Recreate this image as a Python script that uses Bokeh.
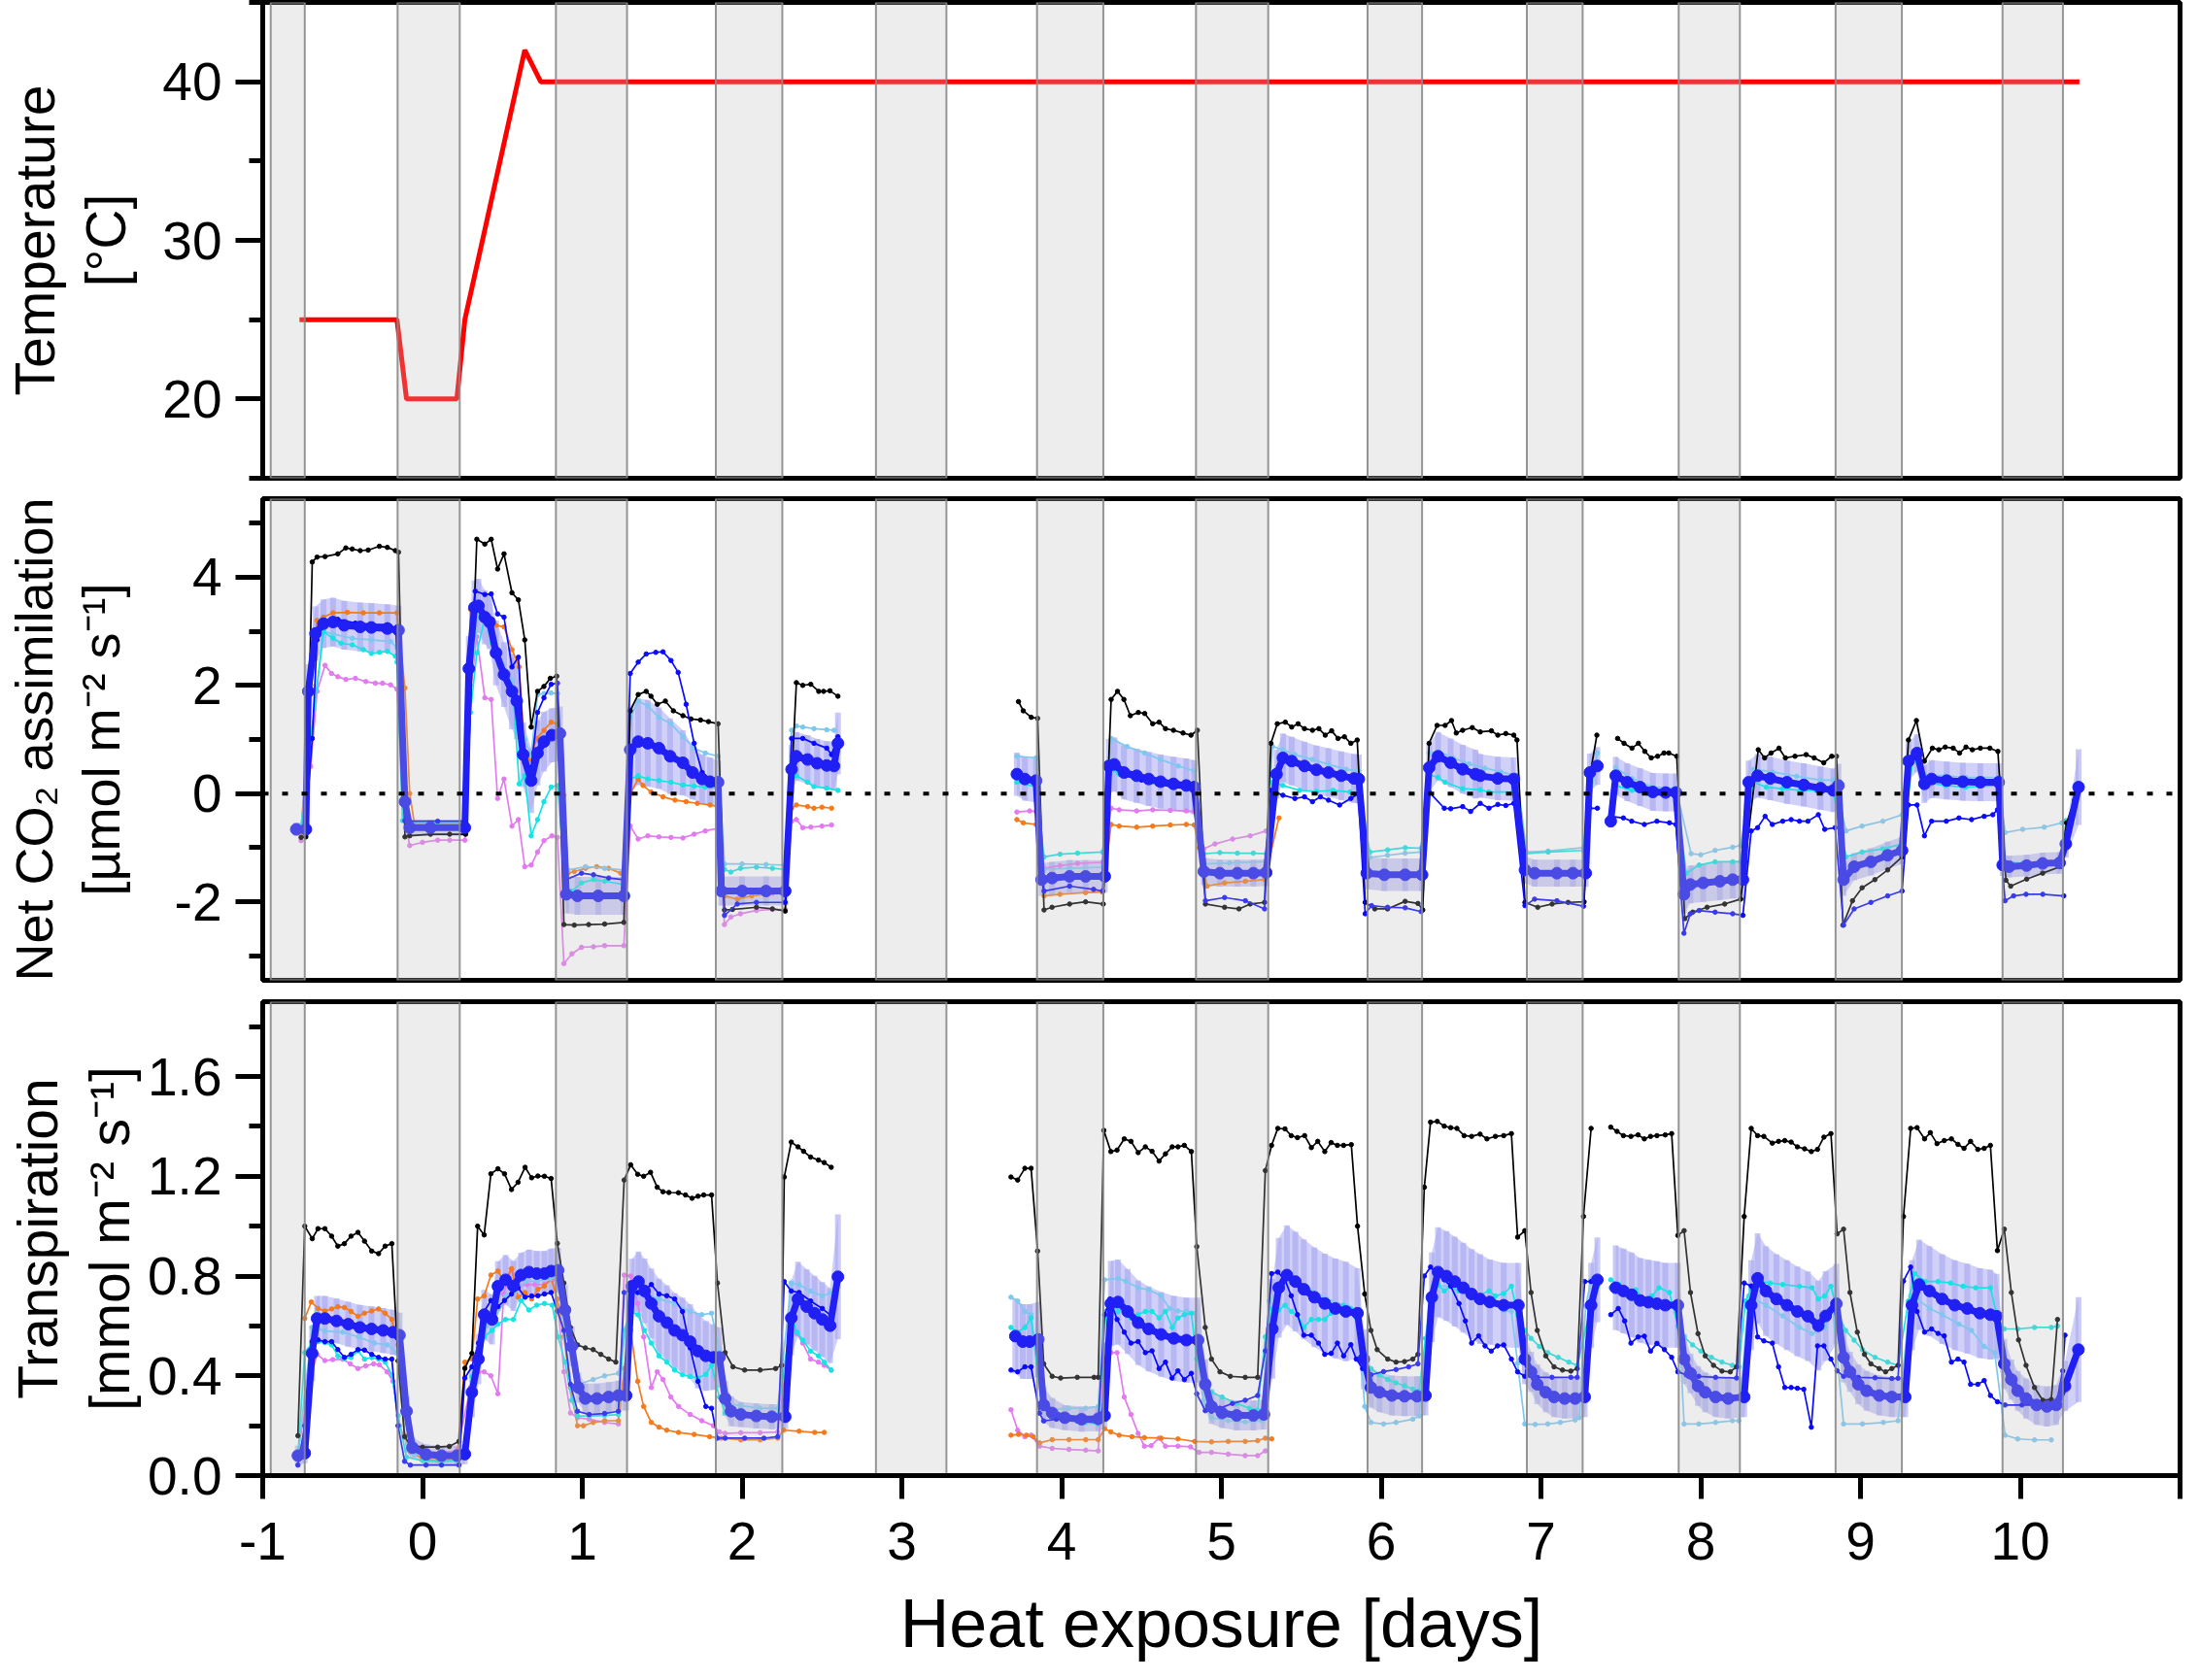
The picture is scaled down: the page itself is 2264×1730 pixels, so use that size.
import math
from bokeh.plotting import figure
from bokeh.layouts import column
from bokeh.models import Range1d, FixedTicker, Span, PrintfTickFormatter
from bokeh.embed import file_html
from bokeh.resources import INLINE

GAP = None

# ---------------- axes / categories ----------------
DAY_TICKS = [-1, 0, 1, 2, 3, 4, 5, 6, 7, 8, 9, 10, 11]
TEMP_TICKS = [20, 30, 40]
TEMP_MINOR = [15, 25, 35, 45]
CO2_TICKS = [-2, 0, 2, 4]
CO2_MINOR = [-3, -1, 1, 3, 5]
TR_TICKS = [0.0, 0.4, 0.8, 1.2, 1.6]
TR_MINOR = [0.2, 0.6, 1.0, 1.4, 1.8]

# dark periods (days)
NIGHT_START = [-0.95, -0.156, 0.835, 1.836, 2.838, 3.846, 4.841, 5.915, 6.912, 7.862, 8.844, 9.889]
NIGHT_END = [-0.737, 0.233, 1.28, 2.252, 3.279, 4.261, 5.293, 6.256, 7.261, 8.245, 9.259, 10.267]

# ---------------- temperature ----------------
TEMP_X = [-0.77, -0.16, -0.10, 0.215, 0.265, 0.64, 0.74, 10.37]
TEMP_Y = [25, 25, 20, 20, 25, 42, 40, 40]

# ---------------- net CO2 assimilation ----------------
CO2_BLACK = [(-0.76,-0.81),(-0.73,-0.80),(-0.69,4.28),(-0.66,4.37),(-0.61,4.38),(-0.53,4.43),(-0.48,4.54),(-0.44,4.52),(-0.39,4.49),(-0.34,4.50),(-0.27,4.57),(-0.22,4.55),(-0.17,4.49),(-0.15,4.46),(-0.11,-0.80),(-0.08,-0.78),(0.05,-0.75),(0.17,-0.75),(0.27,-0.75),(0.34,4.70),(0.39,4.61),(0.43,4.70),(0.47,4.15),(0.51,4.43),(0.56,3.71),(0.60,3.58),(0.64,2.84),(0.68,1.23),(0.72,1.89),(0.76,1.98),(0.80,2.13),(0.84,2.17),(0.885,-2.42),(0.95,-2.43),(1.04,-2.42),(1.14,-2.41),(1.26,-2.38),(1.30,1.53),(1.35,1.83),(1.40,1.89),(1.43,1.80),(1.47,1.65),(1.52,1.71),(1.57,1.53),(1.63,1.44),(1.68,1.38),(1.74,1.36),(1.79,1.33),(1.85,1.29),(1.89,-2.15),(1.94,-2.14),(2.09,-2.10),(2.19,-2.13),(2.27,-2.17),(2.34,2.05),(2.38,2.00),(2.43,2.02),(2.48,1.89),(2.51,1.89),(2.55,1.90),(2.60,1.80),
GAP,
(3.73,1.70),(3.76,1.53),(3.81,1.41),(3.85,1.39),(3.89,-2.15),(3.94,-2.10),(4.05,-2.04),(4.15,-2.00),(4.26,-2.04),(4.31,1.74),(4.35,1.89),(4.39,1.74),(4.43,1.44),(4.48,1.50),(4.52,1.48),(4.57,1.29),(4.61,1.32),(4.65,1.20),(4.70,1.17),(4.76,1.12),(4.81,1.08),(4.85,1.17),(4.90,-2.04),(5.02,-2.10),(5.11,-2.13),(5.18,-2.04),(5.27,-2.01),(5.31,0.93),(5.35,1.29),(5.40,1.32),(5.44,1.23),(5.48,1.29),(5.52,1.20),(5.57,1.17),(5.61,1.20),(5.65,1.08),(5.69,1.16),(5.73,1.02),(5.77,1.05),(5.81,0.93),(5.85,0.99),(5.90,-2.01),(5.96,-2.13),(6.04,-2.13),(6.15,-1.99),(6.23,-2.03),(6.26,-2.15),(6.30,0.93),(6.35,1.26),(6.40,1.26),(6.44,1.35),(6.47,1.12),(6.51,1.17),(6.57,1.22),(6.62,1.14),(6.69,1.16),(6.73,1.08),(6.78,1.11),(6.83,1.08),(6.85,0.99),(6.90,-2.01),(6.98,-2.10),(7.07,-2.04),(7.17,-2.01),(7.27,-2.00),(7.31,0.39),(7.35,1.08),
GAP,
(7.48,1.02),(7.52,0.93),(7.57,0.84),(7.61,0.93),(7.65,0.78),(7.69,0.66),(7.73,0.69),(7.77,0.75),(7.80,0.75),(7.85,0.69),(7.90,-2.31),(7.95,-2.19),(8.04,-2.10),(8.15,-2.04),(8.25,-1.95),(8.36,0.81),(8.40,0.66),(8.44,0.75),(8.49,0.84),(8.53,0.66),(8.59,0.69),(8.66,0.72),(8.71,0.66),(8.77,0.57),(8.82,0.69),(8.85,0.69),(8.89,-2.43),(8.95,-1.98),(9.01,-1.74),(9.09,-1.59),(9.17,-1.41),(9.26,-1.17),(9.30,0.99),(9.35,1.35),(9.40,0.60),(9.45,0.84),(9.49,0.81),(9.53,0.86),(9.58,0.84),(9.62,0.75),(9.66,0.86),(9.70,0.81),(9.75,0.84),(9.81,0.84),(9.86,0.78),(9.91,-1.60),(9.94,-1.71),(10.04,-1.58),(10.14,-1.47),(10.25,-1.35),(10.29,-0.54),(10.34,-0.12)]

# mean: (day, value, sd)
CO2_MEAN = [(-0.79,-0.66,0.12),(-0.73,-0.66,0.12),(-0.715,1.89,0.5),(-0.67,2.96,0.5),(-0.62,3.14,0.45),(-0.56,3.17,0.45),(-0.49,3.11,0.45),(-0.39,3.08,0.45),(-0.32,3.07,0.45),(-0.22,3.05,0.45),(-0.15,3.02,0.45),(-0.11,-0.15,0.3),(-0.08,-0.63,0.15),(0.05,-0.63,0.15),(0.265,-0.63,0.15),(0.29,2.31,0.6),(0.325,3.44,0.5),(0.35,3.47,0.5),(0.39,3.26,0.5),(0.42,3.17,0.5),(0.46,2.60,0.6),(0.51,2.20,0.6),(0.56,1.89,0.7),(0.59,1.71,0.7),(0.63,0.72,0.6),(0.68,0.24,0.6),(0.72,0.75,0.6),(0.76,0.96,0.55),(0.81,1.08,0.5),(0.86,1.11,0.5),(0.90,-1.86,0.35),(0.97,-1.89,0.35),(1.10,-1.89,0.35),(1.26,-1.89,0.35),(1.30,0.81,0.8),(1.35,0.96,0.8),(1.41,0.93,0.8),(1.48,0.84,0.75),(1.55,0.69,0.7),(1.63,0.57,0.6),(1.69,0.39,0.5),(1.75,0.27,0.45),(1.80,0.22,0.45),(1.85,0.21,0.4),(1.87,-1.80,0.27),(2.0,-1.80,0.27),(2.15,-1.80,0.27),(2.27,-1.80,0.27),(2.31,0.45,0.45),(2.34,0.69,0.45),(2.41,0.63,0.45),(2.47,0.56,0.45),(2.53,0.52,0.45),(2.575,0.51,0.45),(2.60,0.93,0.57),
GAP,
(3.72,0.36,0.4),(3.77,0.27,0.4),(3.84,0.24,0.4),(3.875,-1.59,0.3),(3.94,-1.56,0.3),(4.05,-1.53,0.3),(4.15,-1.53,0.3),(4.27,-1.53,0.3),(4.295,0.51,0.5),(4.33,0.54,0.5),(4.39,0.39,0.5),(4.47,0.33,0.5),(4.545,0.27,0.5),(4.62,0.22,0.5),(4.70,0.18,0.5),(4.78,0.15,0.5),(4.83,0.12,0.5),(4.89,-1.44,0.25),(4.99,-1.47,0.25),(5.10,-1.47,0.25),(5.20,-1.47,0.25),(5.28,-1.46,0.25),(5.345,0.36,0.45),(5.385,0.66,0.45),(5.44,0.60,0.45),(5.52,0.51,0.45),(5.595,0.44,0.45),(5.67,0.39,0.45),(5.75,0.33,0.45),(5.83,0.28,0.45),(5.86,0.27,0.45),(5.91,-1.47,0.3),(6.02,-1.50,0.3),(6.15,-1.50,0.3),(6.256,-1.50,0.3),(6.30,0.48,0.45),(6.356,0.69,0.45),(6.435,0.57,0.45),(6.51,0.45,0.45),(6.59,0.36,0.45),(6.62,0.33,0.4),(6.73,0.28,0.4),(6.83,0.27,0.4),(6.90,-1.41,0.25),(6.96,-1.47,0.25),(7.10,-1.47,0.25),(7.20,-1.47,0.25),(7.28,-1.47,0.25),(7.306,0.39,0.35),(7.353,0.51,0.35),
GAP,
(7.437,-0.51,0.12),(7.468,0.33,0.35),(7.54,0.21,0.35),(7.62,0.12,0.35),(7.70,0.03,0.35),(7.78,0.02,0.35),(7.845,0.02,0.35),(7.895,-1.86,0.35),(7.935,-1.68,0.35),(8.015,-1.65,0.35),(8.12,-1.62,0.35),(8.20,-1.59,0.35),(8.264,-1.59,0.35),(8.30,0.21,0.4),(8.356,0.33,0.4),(8.435,0.28,0.4),(8.54,0.21,0.4),(8.645,0.16,0.4),(8.75,0.10,0.4),(8.83,0.06,0.4),(8.862,0.15,0.4),(8.894,-1.59,0.3),(8.96,-1.35,0.25),(9.065,-1.26,0.25),(9.17,-1.14,0.25),(9.26,-1.05,0.25),(9.30,0.60,0.35),(9.354,0.75,0.35),(9.40,0.18,0.35),(9.445,0.27,0.35),(9.54,0.24,0.35),(9.64,0.22,0.35),(9.75,0.21,0.35),(9.865,0.21,0.35),(9.89,-1.32,0.2),(9.93,-1.35,0.2),(10.04,-1.33,0.2),(10.14,-1.29,0.2),(10.246,-1.28,0.2),(10.285,-0.93,0.25),(10.365,0.12,0.7)]

CO2_ORANGE = [(-0.76,-0.72),(-0.70,2.0),(-0.66,3.20),(-0.62,3.26),(-0.56,3.34),(-0.47,3.35),(-0.37,3.34),(-0.27,3.34),(-0.16,3.34),(-0.11,1.95),(-0.08,0.0),(-0.05,-0.57),(0.05,-0.57),(0.265,-0.57),(0.30,3.41),(0.35,3.44),(0.40,3.32),(0.46,3.11),(0.51,3.08),(0.56,2.66),(0.605,2.34),(0.64,0.75),(0.67,0.63),(0.715,1.02),(0.76,1.17),(0.805,1.32),(0.845,1.29),(0.885,-0.03),(0.91,-1.47),(0.95,-1.44),(1.02,-1.38),(1.09,-1.35),(1.165,-1.38),(1.24,-1.47),(1.26,-1.50),(1.30,0.0),(1.35,0.27),(1.38,0.15),(1.43,0.03),(1.505,-0.06),(1.58,-0.12),(1.65,-0.15),(1.72,-0.18),(1.80,-0.21),(1.85,-0.24),(1.89,-1.89),(1.97,-1.95),(2.06,-1.89),(2.19,-1.84),(2.27,-1.83),(2.31,-0.27),(2.34,-0.21),(2.41,-0.24),(2.45,-0.27),(2.50,-0.25),(2.56,-0.27),
GAP,
(3.72,-0.48),(3.76,-0.54),(3.84,-0.57),(3.89,-1.89),(3.99,-1.86),(4.15,-1.83),(4.256,-1.82),(4.31,-0.57),(4.36,-0.60),(4.47,-0.62),(4.57,-0.60),(4.68,-0.58),(4.78,-0.57),(4.83,-0.58),(4.86,-1.0),(4.91,-1.71),(5.02,-1.65),(5.15,-1.62),(5.27,-1.59),(5.36,-0.45)]

CO2_VIOLET = [(-0.76,-0.87),(-0.70,0.5),(-0.66,1.89),(-0.61,2.37),(-0.57,2.22),(-0.53,2.16),(-0.48,2.11),(-0.42,2.13),(-0.355,2.07),(-0.295,2.04),(-0.25,2.04),(-0.20,2.01),(-0.16,1.93),(-0.11,-0.5),(-0.08,-0.96),(0.0,-0.90),(0.095,-0.86),(0.17,-0.86),(0.265,-0.86),(0.30,1.89),(0.34,2.90),(0.39,1.77),(0.43,1.74),(0.47,-0.09),(0.51,0.27),(0.56,-0.60),(0.60,-0.48),(0.64,-1.35),(0.68,-1.32),(0.72,-1.08),(0.76,-0.87),(0.81,-0.78),(0.845,-0.81),(0.885,-3.14),(0.935,-2.96),(0.995,-2.84),(1.07,-2.83),(1.14,-2.81),(1.26,-2.81),(1.30,-0.60),(1.35,-0.84),(1.41,-0.78),(1.48,-0.80),(1.555,-0.81),(1.63,-0.82),(1.70,-0.75),(1.77,-0.69),(1.85,-0.64),(1.89,-2.42),(1.93,-2.28),(1.99,-2.22),(2.09,-2.16),(2.19,-2.14),(2.27,-2.14),(2.31,-0.51),(2.34,-0.48),(2.38,-0.63),(2.43,-0.62),(2.50,-0.60),(2.56,-0.58),
GAP,
(3.72,-0.34),(3.80,-0.32),(3.84,-0.33),(3.89,-1.38),(3.99,-1.33),(4.10,-1.29),(4.256,-1.27),(4.31,-0.27),(4.36,-0.30),(4.47,-0.32),(4.57,-0.30),(4.68,-0.31),(4.78,-0.32),(4.83,-0.33),(4.89,-1.02),(4.96,-0.93),(5.07,-0.84),(5.18,-0.78),(5.28,-0.69)]

CO2_CYAN = [(-0.76,-0.60),(-0.70,1.0),(-0.62,2.99),(-0.56,2.87),(-0.51,2.78),(-0.44,2.75),(-0.37,2.66),(-0.32,2.59),(-0.27,2.61),(-0.22,2.63),(-0.17,2.54),(-0.16,2.43),(-0.125,-0.5),(-0.08,-0.54),(0.095,-0.54),(0.265,-0.54),(0.30,1.5),(0.34,2.6),(0.39,3.26),(0.435,2.78),(0.48,2.37),(0.53,2.07),(0.57,1.74),(0.605,0.18),(0.64,0.33),(0.68,-0.78),(0.72,-0.48),(0.76,-0.15),(0.805,0.12),(0.845,0.15),(0.90,-1.83),(0.935,-1.80),(0.995,-1.65),(1.07,-1.59),(1.14,-1.62),(1.26,-1.68),(1.30,0.27),(1.35,0.33),(1.41,0.27),(1.48,0.24),(1.555,0.21),(1.63,0.16),(1.70,0.14),(1.77,0.12),(1.85,0.10),(1.89,-1.40),(1.93,-1.45),(1.99,-1.38),(2.09,-1.36),(2.19,-1.38),(2.27,-1.40),(2.31,0.24),(2.34,0.33),(2.41,0.21),(2.45,0.13),(2.53,0.10),(2.60,0.06),
GAP,
(3.72,0.21),(3.84,0.12),(3.89,-1.17),(3.99,-1.12),(4.10,-1.10),(4.256,-1.08),(4.31,0.45),(4.36,0.36),(4.47,0.27),(4.57,0.21),(4.68,0.15),(4.78,0.09),(4.83,0.06),(4.89,-1.11),(4.99,-1.09),(5.10,-1.10),(5.20,-1.10),(5.28,-1.11),(5.32,0.21),(5.385,0.15),(5.49,0.06),(5.595,0.04),(5.70,0.06),(5.805,0.03),(5.857,0.0),(5.93,-1.08),(6.04,-1.04),(6.15,-1.00),(6.25,-1.01),(6.30,0.35),(6.356,0.30),(6.40,0.21),(6.51,0.09),(6.62,0.07),(6.675,0.03),(6.83,0.03),(6.90,-1.11),(7.045,-1.08),(7.266,-1.05),(7.306,0.39),(7.353,0.51),
GAP,
(7.468,0.15),(7.57,0.06),(7.67,0.0),(7.78,-0.03),(7.845,0.0),(7.91,-1.47),(7.99,-1.32),(8.09,-1.26),(8.20,-1.26),(8.25,-1.26),(8.33,0.21),(8.41,0.12),(8.51,0.09),(8.62,0.06),(8.72,0.06),(8.83,0.03),(8.91,-1.17),(9.01,-1.08),(9.14,-1.02),(9.26,-0.93),(9.33,0.69),(9.40,0.21),(9.53,0.15),(9.66,0.12),(9.865,0.15),(9.905,-1.26),(10.015,-1.29),(10.15,-1.29),(10.26,-1.24),(10.285,-0.50)]

CO2_SKY = [(-0.76,-0.62),(-0.62,3.0),(-0.56,2.95),(-0.44,2.87),(-0.32,2.84),(-0.20,2.81),(-0.16,2.70),(-0.11,-0.4),(-0.08,-0.58),(0.265,-0.58),(0.30,2.0),(0.35,3.3),(0.42,3.0),(0.50,2.4),(0.56,2.1),(0.60,1.6),(0.64,1.0),(0.68,0.7),(0.72,1.83),(0.76,1.85),(0.805,1.86),(0.845,1.85),(0.91,-1.41),(1.02,-1.35),(1.14,-1.38),(1.26,-1.41),(1.30,1.4),(1.35,1.71),(1.41,1.62),(1.48,1.41),(1.555,1.29),(1.63,1.05),(1.70,0.84),(1.77,0.75),(1.85,0.69),(1.89,-1.30),(2.0,-1.30),(2.15,-1.31),(2.27,-1.32),(2.31,1.17),(2.34,1.25),(2.38,1.23),(2.45,1.20),(2.53,1.18),(2.575,1.17),
GAP,
(3.72,0.69),(3.84,0.66),(3.89,-1.40),(4.05,-1.38),(4.256,-1.36),(4.31,1.02),(4.41,0.87),(4.52,0.75),(4.62,0.63),(4.73,0.51),(4.83,0.42),(4.89,-1.30),(5.05,-1.28),(5.28,-1.26),(5.32,0.87),(5.385,0.81),(5.46,0.72),(5.57,0.63),(5.67,0.54),(5.78,0.45),(5.857,0.42),(5.93,-1.18),(6.04,-1.14),(6.15,-1.10),(6.25,-1.08),(6.30,0.75),(6.36,0.78),(6.45,0.66),(6.55,0.55),(6.65,0.47),(6.75,0.40),(6.85,0.33),(6.91,-1.08),(7.045,-1.06),(7.266,-1.00),(7.353,0.75),
GAP,
(7.468,0.48),(7.57,0.28),(7.70,0.12),(7.845,0.10),(7.94,-1.11),(8.0,-1.13),(8.09,-1.05),(8.20,-0.99),(8.25,-0.96),(8.33,0.45),(8.45,0.40),(8.60,0.32),(8.75,0.25),(8.83,0.25),(8.91,-0.69),(9.01,-0.60),(9.14,-0.51),(9.26,-0.39),(9.33,0.75),(9.40,0.35),(9.53,0.33),(9.66,0.30),(9.865,0.30),(9.905,-0.72),(10.015,-0.66),(10.15,-0.62),(10.26,-0.54)]

CO2_BLUE = [(-0.76,-0.66),(-0.73,-0.55),(-0.69,1.02),(-0.66,2.84),(-0.62,3.20),(-0.53,3.22),(-0.42,3.15),(-0.32,3.13),(-0.22,3.12),(-0.16,3.05),(-0.11,-0.5),(-0.08,-0.51),(0.095,-0.51),(0.265,-0.51),(0.29,2.37),(0.33,3.74),(0.39,3.68),(0.43,3.69),(0.47,3.32),(0.51,3.26),(0.56,2.34),(0.60,2.52),(0.64,0.57),(0.68,0.48),(0.72,1.50),(0.76,1.77),(0.805,2.02),(0.845,2.04),(0.90,-1.59),(0.995,-1.47),(1.07,-1.50),(1.165,-1.56),(1.26,-1.59),(1.30,2.22),(1.35,2.43),(1.40,2.58),(1.46,2.61),(1.505,2.62),(1.555,2.46),(1.60,2.24),(1.65,1.65),(1.70,0.93),(1.75,0.39),(1.80,0.27),(1.85,0.18),(1.89,-2.25),(1.97,-2.04),(2.09,-2.01),(2.27,-2.01),(2.31,1.02),(2.38,1.02),(2.45,0.93),(2.53,0.84),(2.56,0.72),(2.60,1.05),
GAP,
(3.72,0.30),(3.84,0.22),(3.89,-1.80),(4.05,-1.71),(4.20,-1.77),(4.256,-1.80),(4.31,0.50),(4.40,0.33),(4.50,0.25),(4.60,0.18),(4.70,0.12),(4.83,0.08),(4.90,-1.98),(5.02,-1.92),(5.15,-1.98),(5.27,-2.13),(5.31,0.06),(5.385,-0.03),(5.46,-0.09),(5.52,-0.06),(5.57,-0.15),(5.62,-0.06),(5.67,-0.12),(5.74,-0.21),(5.81,-0.09),(5.857,0.0),(5.90,-2.22),(5.94,-2.07),(6.04,-2.10),(6.15,-2.11),(6.25,-2.18),(6.30,0.03),(6.395,-0.27),(6.435,-0.28),(6.51,-0.24),(6.56,-0.33),(6.62,-0.18),(6.675,-0.27),(6.73,-0.20),(6.78,-0.22),(6.83,-0.18),(6.90,-2.07),(6.96,-1.95),(7.10,-1.98),(7.266,-2.08),(7.306,-0.27),(7.353,-0.27),
GAP,
(7.437,-0.42),(7.516,-0.45),(7.568,-0.51),(7.647,-0.57),(7.726,-0.51),(7.804,-0.54),(7.845,-0.57),(7.895,-2.58),(7.935,-2.22),(7.99,-2.16),(8.09,-2.19),(8.20,-2.22),(8.264,-2.25),(8.316,-0.69),(8.356,-0.63),(8.403,-0.42),(8.448,-0.57),(8.513,-0.51),(8.566,-0.48),(8.618,-0.51),(8.671,-0.51),(8.736,-0.39),(8.776,-0.66),(8.841,-0.63),(8.894,-2.43),(8.96,-2.13),(9.065,-2.01),(9.17,-1.89),(9.26,-1.80),(9.30,-0.21),(9.354,-0.21),(9.40,-0.78),(9.445,-0.51),(9.537,-0.51),(9.616,-0.45),(9.695,-0.48),(9.774,-0.42),(9.828,-0.39),(9.857,-0.30),(9.905,-1.98),(9.958,-1.89),(10.036,-1.86),(10.141,-1.86),(10.272,-1.89)]

# ---------------- transpiration ----------------
TR_BLACK = [(-0.78,0.16),(-0.737,1.00),(-0.69,0.95),(-0.654,0.99),(-0.611,0.99),(-0.569,0.96),(-0.53,0.92),(-0.489,0.93),(-0.447,0.96),(-0.404,0.975),(-0.363,0.94),(-0.318,0.90),(-0.275,0.89),(-0.234,0.92),(-0.192,0.93),(-0.153,0.46),(-0.112,0.156),(-0.076,0.124),(0.0,0.114),(0.095,0.114),(0.168,0.117),(0.228,0.137),(0.265,0.43),(0.309,0.49),(0.345,1.00),(0.386,0.965),(0.428,1.21),(0.472,1.23),(0.513,1.21),(0.557,1.147),(0.598,1.176),(0.642,1.236),(0.683,1.194),(0.722,1.201),(0.763,1.20),(0.805,1.191),(0.844,0.931),(0.885,0.772),(0.926,0.594),(0.97,0.524),(1.019,0.512),(1.068,0.505),(1.116,0.486),(1.165,0.467),(1.21,0.455),(1.262,1.185),(1.303,1.246),(1.347,1.208),(1.384,1.20),(1.427,1.216),(1.469,1.156),(1.505,1.138),(1.542,1.135),(1.602,1.134),(1.646,1.125),(1.687,1.112),(1.724,1.12),(1.76,1.125),(1.809,1.125),(1.846,0.772),(1.894,0.493),(1.943,0.436),(2.016,0.423),(2.113,0.423),(2.21,0.429),(2.247,0.442),(2.264,1.197),(2.308,1.337),(2.35,1.318),(2.385,1.30),(2.429,1.277),(2.478,1.265),(2.514,1.255),(2.558,1.236),
GAP,
(3.683,1.197),(3.725,1.185),(3.77,1.232),(3.809,1.232),(3.85,0.90),(3.888,0.448),(3.941,0.398),(3.994,0.391),(4.098,0.394),(4.203,0.394),(4.229,0.394),(4.264,1.384),(4.308,1.299),(4.347,1.305),(4.392,1.35),(4.434,1.34),(4.479,1.295),(4.524,1.318),(4.566,1.30),(4.61,1.261),(4.65,1.29),(4.692,1.318),(4.728,1.318),(4.768,1.324),(4.812,1.299),(4.846,0.918),(4.899,0.594),(4.938,0.467),(4.991,0.416),(5.056,0.398),(5.149,0.394),(5.227,0.394),(5.275,1.223),(5.314,1.324),(5.353,1.392),(5.398,1.39),(5.437,1.363),(5.476,1.355),(5.521,1.363),(5.563,1.315),(5.603,1.34),(5.647,1.299),(5.687,1.335),(5.726,1.324),(5.765,1.324),(5.813,1.327),(5.852,1.0),(5.897,0.728),(5.936,0.582),(5.975,0.505),(6.041,0.467),(6.093,0.455),(6.146,0.457),(6.198,0.467),(6.23,0.486),(6.27,1.156),(6.309,1.417),(6.351,1.42),(6.395,1.401),(6.435,1.395),(6.474,1.392),(6.519,1.363),(6.566,1.36),(6.619,1.369),(6.662,1.35),(6.715,1.36),(6.767,1.363),(6.815,1.371),(6.854,0.956),(6.899,0.982),(6.938,0.734),(6.977,0.582),(7.03,0.48),(7.082,0.436),(7.135,0.423),(7.187,0.419),(7.227,0.429),(7.266,1.039),(7.314,1.392),
GAP,
(7.437,1.397),(7.476,1.38),(7.516,1.363),(7.563,1.36),(7.608,1.366),(7.647,1.35),(7.686,1.36),(7.726,1.363),(7.778,1.366),(7.818,1.371),(7.857,0.963),(7.896,0.982),(7.936,0.734),(7.983,0.569),(8.028,0.48),(8.08,0.442),(8.133,0.419),(8.185,0.416),(8.224,0.436),(8.272,1.039),(8.316,1.392),(8.356,1.363),(8.395,1.36),(8.448,1.333),(8.487,1.34),(8.526,1.343),(8.566,1.337),(8.605,1.318),(8.65,1.31),(8.692,1.299),(8.731,1.308),(8.771,1.357),(8.815,1.371),(8.854,0.969),(8.894,0.988),(8.934,0.734),(8.98,0.575),(9.025,0.486),(9.065,0.448),(9.117,0.429),(9.157,0.416),(9.196,0.429),(9.235,0.442),(9.269,1.039),(9.314,1.392),(9.354,1.395),(9.401,1.35),(9.437,1.375),(9.479,1.331),(9.524,1.343),(9.569,1.35),(9.61,1.328),(9.648,1.312),(9.689,1.34),(9.734,1.308),(9.774,1.312),(9.813,1.324),(9.857,0.902),(9.9,0.988),(9.944,0.734),(9.989,0.544),(10.036,0.442),(10.089,0.353),(10.141,0.302),(10.194,0.305),(10.233,0.626)]

TR_MEAN = [(-0.78,0.08,0.04),(-0.737,0.09,0.04),(-0.691,0.49,0.11),(-0.66,0.63,0.09),(-0.611,0.63,0.09),(-0.538,0.62,0.09),(-0.465,0.607,0.09),(-0.392,0.594,0.09),(-0.319,0.588,0.09),(-0.246,0.582,0.09),(-0.185,0.575,0.09),(-0.144,0.563,0.09),(-0.10,0.258,0.06),(-0.063,0.112,0.04),(0.022,0.085,0.04),(0.119,0.08,0.04),(0.216,0.08,0.04),(0.265,0.086,0.04),(0.309,0.334,0.1),(0.35,0.467,0.1),(0.386,0.645,0.1),(0.435,0.626,0.1),(0.472,0.759,0.1),(0.52,0.785,0.1),(0.569,0.76,0.1),(0.617,0.804,0.09),(0.666,0.816,0.09),(0.715,0.81,0.09),(0.763,0.81,0.09),(0.805,0.82,0.09),(0.849,0.823,0.09),(0.892,0.664,0.1),(0.934,0.518,0.08),(0.975,0.353,0.06),(1.019,0.309,0.06),(1.092,0.309,0.06),(1.165,0.315,0.06),(1.226,0.321,0.06),(1.274,0.321,0.06),(1.31,0.759,0.11),(1.352,0.778,0.12),(1.39,0.74,0.13),(1.432,0.69,0.14),(1.48,0.639,0.15),(1.53,0.613,0.15),(1.578,0.582,0.15),(1.627,0.563,0.15),(1.675,0.537,0.15),(1.724,0.499,0.15),(1.773,0.48,0.14),(1.821,0.474,0.13),(1.858,0.474,0.12),(1.894,0.309,0.07),(1.931,0.258,0.06),(1.992,0.245,0.05),(2.089,0.239,0.05),(2.186,0.236,0.05),(2.27,0.236,0.05),(2.308,0.632,0.15),(2.35,0.708,0.15),(2.405,0.677,0.15),(2.454,0.651,0.15),(2.502,0.626,0.15),(2.551,0.601,0.15),(2.60,0.797,0.25),
GAP,
(3.71,0.559,0.15),(3.757,0.537,0.15),(3.80,0.537,0.15),(3.854,0.546,0.15),(3.888,0.283,0.07),(3.941,0.251,0.06),(4.02,0.232,0.05),(4.125,0.226,0.05),(4.229,0.228,0.05),(4.269,0.24,0.05),(4.308,0.69,0.17),(4.353,0.696,0.17),(4.413,0.658,0.17),(4.479,0.613,0.17),(4.545,0.588,0.17),(4.623,0.566,0.17),(4.702,0.55,0.17),(4.781,0.543,0.17),(4.854,0.543,0.17),(4.899,0.366,0.1),(4.938,0.277,0.07),(5.004,0.251,0.06),(5.096,0.241,0.06),(5.2,0.241,0.06),(5.266,0.245,0.06),(5.319,0.588,0.2),(5.359,0.753,0.2),(5.41,0.804,0.2),(5.463,0.778,0.2),(5.516,0.747,0.2),(5.582,0.715,0.2),(5.647,0.69,0.2),(5.713,0.67,0.2),(5.779,0.658,0.2),(5.852,0.651,0.18),(5.891,0.467,0.12),(5.936,0.353,0.08),(5.99,0.334,0.08),(6.067,0.321,0.08),(6.146,0.318,0.08),(6.225,0.318,0.08),(6.277,0.321,0.08),(6.317,0.715,0.18),(6.356,0.816,0.18),(6.409,0.80,0.18),(6.461,0.778,0.18),(6.514,0.753,0.18),(6.566,0.728,0.18),(6.619,0.708,0.18),(6.68,0.696,0.17),(6.767,0.683,0.17),(6.859,0.683,0.17),(6.899,0.467,0.1),(6.938,0.416,0.08),(6.977,0.366,0.08),(7.03,0.334,0.08),(7.082,0.315,0.08),(7.148,0.309,0.08),(7.214,0.309,0.08),(7.274,0.315,0.08),(7.314,0.683,0.17),(7.353,0.785,0.17),
GAP,
(7.468,0.753,0.17),(7.516,0.74,0.17),(7.568,0.725,0.17),(7.621,0.702,0.17),(7.673,0.695,0.17),(7.726,0.689,0.17),(7.778,0.683,0.17),(7.857,0.683,0.17),(7.896,0.467,0.1),(7.936,0.41,0.08),(7.983,0.359,0.08),(8.028,0.334,0.08),(8.093,0.315,0.08),(8.172,0.309,0.08),(8.272,0.315,0.08),(8.316,0.683,0.18),(8.356,0.791,0.18),(8.408,0.74,0.18),(8.474,0.708,0.18),(8.54,0.683,0.18),(8.605,0.658,0.18),(8.671,0.639,0.18),(8.736,0.601,0.18),(8.782,0.64,0.18),(8.849,0.689,0.16),(8.894,0.474,0.1),(8.934,0.416,0.08),(8.986,0.366,0.08),(9.038,0.34,0.08),(9.117,0.321,0.08),(9.196,0.315,0.08),(9.28,0.315,0.08),(9.322,0.683,0.18),(9.367,0.766,0.18),(9.432,0.74,0.18),(9.511,0.708,0.18),(9.59,0.683,0.18),(9.668,0.67,0.18),(9.747,0.651,0.18),(9.813,0.645,0.18),(9.852,0.639,0.17),(9.9,0.448,0.1),(9.944,0.385,0.08),(9.984,0.34,0.08),(10.036,0.309,0.08),(10.102,0.283,0.08),(10.167,0.277,0.08),(10.225,0.283,0.08),(10.28,0.359,0.1),(10.364,0.505,0.21)]

TR_ORANGE = [(-0.737,0.63),(-0.696,0.696),(-0.654,0.67),(-0.611,0.66),(-0.569,0.668),(-0.53,0.677),(-0.489,0.674),(-0.447,0.658),(-0.404,0.639),(-0.363,0.651),(-0.318,0.66),(-0.275,0.668),(-0.234,0.651),(-0.192,0.626),(-0.153,0.524),(-0.112,0.162),(-0.076,0.099),(0.0,0.067),(0.095,0.061),(0.216,0.067),(0.265,0.455),(0.309,0.468),(0.345,0.708),(0.386,0.72),(0.428,0.804),(0.472,0.82),(0.513,0.778),(0.557,0.829),(0.598,0.715),(0.642,0.734),(0.683,0.708),(0.722,0.747),(0.763,0.76),(0.805,0.791),(0.844,0.708),(0.885,0.556),(0.926,0.353),(0.97,0.20),(1.007,0.20),(1.068,0.213),(1.14,0.22),(1.226,0.22),(1.262,0.429),(1.303,0.582),(1.347,0.378),(1.384,0.277),(1.432,0.213),(1.48,0.194),(1.529,0.182),(1.602,0.173),(1.70,0.165),(1.797,0.156),(1.87,0.15),(1.992,0.143),(2.113,0.143),(2.223,0.15),(2.26,0.182),(2.357,0.178),(2.454,0.173),(2.514,0.173),
GAP,
(3.683,0.162),(3.73,0.165),(3.78,0.162),(3.822,0.156),(3.862,0.131),(3.941,0.144),(4.046,0.144),(4.151,0.144),(4.229,0.144),(4.269,0.188),(4.308,0.175),(4.36,0.162),(4.44,0.156),(4.518,0.152),(4.623,0.15),(4.728,0.147),(4.833,0.137),(4.938,0.135),(5.043,0.137),(5.149,0.137),(5.227,0.14),(5.275,0.15),(5.315,0.147)]

TR_VIOLET = [(-0.78,0.093),(-0.70,0.40),(-0.66,0.486),(-0.611,0.461),(-0.562,0.465),(-0.50,0.467),(-0.452,0.448),(-0.404,0.429),(-0.355,0.44),(-0.306,0.448),(-0.27,0.444),(-0.222,0.416),(-0.185,0.378),(-0.144,0.20),(-0.076,0.093),(0.022,0.095),(0.119,0.093),(0.216,0.10),(0.30,0.353),(0.35,0.416),(0.386,0.416),(0.428,0.40),(0.472,0.328),(0.508,0.728),(0.557,0.829),(0.605,0.76),(0.654,0.766),(0.703,0.766),(0.763,0.766),(0.812,0.785),(0.849,0.68),(0.885,0.416),(0.926,0.251),(0.97,0.232),(1.043,0.226),(1.14,0.213),(1.226,0.207),(1.262,0.804),(1.303,0.80),(1.347,0.69),(1.384,0.556),(1.432,0.353),(1.469,0.416),(1.505,0.385),(1.554,0.315),(1.603,0.277),(1.675,0.245),(1.748,0.22),(1.821,0.20),(1.858,0.175),(1.894,0.169),(1.992,0.172),(2.113,0.172),(2.223,0.175),(2.308,0.607),(2.344,0.569),(2.38,0.531),(2.429,0.467),(2.478,0.455),(2.514,0.442),(2.558,0.423),
GAP,
(3.683,0.264),(3.725,0.182),(3.77,0.156),(3.809,0.162),(3.862,0.118),(3.941,0.109),(4.046,0.105),(4.151,0.102),(4.229,0.099),(4.269,0.524),(4.308,0.493),(4.347,0.493),(4.392,0.315),(4.434,0.245),(4.479,0.169),(4.518,0.118),(4.56,0.12),(4.61,0.15),(4.65,0.118),(4.728,0.118),(4.807,0.115),(4.86,0.093),(4.938,0.093),(5.043,0.086),(5.149,0.08),(5.227,0.08),(5.275,0.099)]

TR_CYAN = [(-0.78,0.074),(-0.737,0.493),(-0.691,0.531),(-0.654,0.537),(-0.611,0.533),(-0.569,0.524),(-0.53,0.48),(-0.489,0.47),(-0.447,0.473),(-0.404,0.50),(-0.363,0.467),(-0.318,0.473),(-0.275,0.467),(-0.234,0.455),(-0.192,0.404),(-0.153,0.24),(-0.10,0.074),(0.0,0.06),(0.119,0.055),(0.216,0.06),(0.265,0.074),(0.309,0.398),(0.35,0.493),(0.386,0.556),(0.435,0.582),(0.472,0.607),(0.52,0.626),(0.569,0.626),(0.617,0.702),(0.666,0.664),(0.715,0.683),(0.763,0.69),(0.812,0.683),(0.849,0.556),(0.892,0.455),(0.934,0.302),(0.97,0.239),(1.043,0.239),(1.14,0.241),(1.226,0.245),(1.262,0.582),(1.303,0.658),(1.347,0.645),(1.39,0.582),(1.432,0.531),(1.48,0.48),(1.529,0.455),(1.578,0.423),(1.627,0.404),(1.675,0.397),(1.724,0.391),(1.773,0.406),(1.809,0.442),(1.858,0.315),(1.894,0.251),(1.992,0.241),(2.113,0.236),(2.223,0.239),(2.308,0.645),(2.344,0.575),(2.38,0.543),(2.429,0.499),(2.478,0.48),(2.514,0.455),(2.558,0.423),
GAP,
(3.683,0.594),(3.725,0.575),(3.77,0.594),(3.809,0.632),(3.875,0.283),(3.941,0.258),(4.046,0.232),(4.151,0.213),(4.229,0.207),(4.277,0.658),(4.308,0.702),(4.353,0.658),(4.392,0.677),(4.434,0.632),(4.479,0.645),(4.524,0.658),(4.566,0.658),(4.61,0.632),(4.65,0.658),(4.692,0.594),(4.728,0.632),(4.768,0.645),(4.812,0.651),(4.846,0.467),(4.899,0.353),(4.938,0.334),(5.004,0.315),(5.096,0.289),(5.175,0.27),(5.227,0.264),(5.275,0.556),(5.314,0.67),(5.359,0.664),(5.398,0.683),(5.437,0.658),(5.476,0.645),(5.516,0.594),(5.563,0.626),(5.608,0.626),(5.647,0.626),(5.687,0.651),(5.726,0.658),(5.765,0.683),(5.81,0.67),(5.844,0.632),(5.884,0.467),(5.936,0.429),(5.988,0.404),(6.041,0.385),(6.093,0.372),(6.146,0.36),(6.198,0.347),(6.238,0.34),(6.277,0.55),(6.317,0.708),(6.356,0.766),(6.395,0.74),(6.435,0.758),(6.487,0.74),(6.54,0.752),(6.597,0.72),(6.675,0.74),(6.715,0.72),(6.767,0.73),(6.815,0.759),(6.854,0.645),(6.899,0.582),(6.938,0.55),(6.99,0.518),(7.043,0.493),(7.108,0.474),(7.174,0.455),(7.227,0.442),(7.314,0.683),(7.353,0.759),
GAP,
(7.437,0.785),(7.49,0.766),(7.542,0.734),(7.594,0.745),(7.647,0.702),(7.694,0.72),(7.739,0.753),(7.804,0.734),(7.857,0.60),(7.896,0.556),(7.949,0.524),(8.001,0.499),(8.067,0.474),(8.133,0.455),(8.198,0.442),(8.238,0.436),(8.28,0.70),(8.316,0.747),(8.356,0.778),(8.435,0.772),(8.513,0.766),(8.618,0.759),(8.697,0.753),(8.736,0.708),(8.776,0.72),(8.815,0.759),(8.854,0.66),(8.907,0.582),(8.96,0.543),(9.012,0.505),(9.091,0.474),(9.17,0.455),(9.235,0.442),(9.30,0.70),(9.34,0.81),(9.406,0.778),(9.485,0.778),(9.564,0.772),(9.642,0.759),(9.721,0.753),(9.813,0.753),(9.857,0.632),(9.9,0.588),(9.984,0.588),(10.089,0.594),(10.194,0.594),(10.233,0.60)]

TR_SKY = [(-0.78,0.08),(-0.691,0.594),(-0.611,0.58),(-0.50,0.575),(-0.40,0.556),(-0.30,0.531),(-0.22,0.524),(-0.16,0.493),(-0.10,0.10),(-0.05,0.085),(0.10,0.085),(0.265,0.085),(0.309,0.30),(0.35,0.44),(0.40,0.60),(0.45,0.62),(0.52,0.72),(0.58,0.74),(0.65,0.78),(0.72,0.78),(0.80,0.79),(0.849,0.80),(0.89,0.55),(0.934,0.353),(0.975,0.366),(1.068,0.385),(1.14,0.40),(1.226,0.41),(1.31,0.72),(1.384,0.73),(1.48,0.708),(1.578,0.69),(1.675,0.658),(1.748,0.645),(1.809,0.651),(1.858,0.50),(1.894,0.29),(1.992,0.28),(2.113,0.27),(2.223,0.27),(2.308,0.772),(2.357,0.765),(2.429,0.74),(2.502,0.72),(2.558,0.733),
GAP,
(3.683,0.715),(3.725,0.70),(3.77,0.658),(3.809,0.645),(3.875,0.30),(3.941,0.264),(4.046,0.27),(4.151,0.27),(4.229,0.277),(4.269,0.785),(4.353,0.791),(4.40,0.78),(4.479,0.753),(4.545,0.745),(4.623,0.721),(4.676,0.67),(4.728,0.66),(4.781,0.658),(4.833,0.65),(4.886,0.30),(4.938,0.232),(5.043,0.22),(5.149,0.215),(5.251,0.22),(5.30,0.70),(5.40,0.78),(5.53,0.759),(5.66,0.708),(5.79,0.677),(5.852,0.66),(5.897,0.277),(5.936,0.213),(6.015,0.207),(6.093,0.213),(6.198,0.226),(6.238,0.239),(6.30,0.70),(6.356,0.76),(6.45,0.76),(6.55,0.74),(6.67,0.70),(6.767,0.66),(6.815,0.658),(6.854,0.45),(6.899,0.207),(6.964,0.205),(7.043,0.207),(7.121,0.213),(7.214,0.223),(7.24,0.232),(7.28,0.68),(7.314,0.785),
GAP,
(7.437,0.753),(7.568,0.708),(7.70,0.70),(7.75,0.677),(7.804,0.68),(7.857,0.69),(7.896,0.207),(7.988,0.207),(8.093,0.213),(8.198,0.22),(8.238,0.22),(8.30,0.72),(8.408,0.683),(8.513,0.64),(8.618,0.594),(8.697,0.569),(8.776,0.594),(8.828,0.658),(8.894,0.207),(9.012,0.207),(9.143,0.213),(9.235,0.22),(9.314,0.72),(9.354,0.708),(9.433,0.67),(9.511,0.645),(9.616,0.607),(9.695,0.582),(9.774,0.518),(9.84,0.493),(9.905,0.162),(9.984,0.147),(10.089,0.143),(10.194,0.143)]

TR_BLUE = [(-0.78,0.042),(-0.737,0.20),(-0.691,0.537),(-0.654,0.544),(-0.611,0.537),(-0.569,0.537),(-0.53,0.505),(-0.489,0.474),(-0.447,0.486),(-0.404,0.505),(-0.363,0.503),(-0.318,0.486),(-0.275,0.474),(-0.234,0.467),(-0.192,0.467),(-0.153,0.20),(-0.112,0.057),(-0.076,0.042),(0.022,0.042),(0.119,0.042),(0.228,0.042),(0.265,0.391),(0.309,0.436),(0.35,0.531),(0.386,0.658),(0.428,0.702),(0.472,0.677),(0.513,0.702),(0.557,0.728),(0.598,0.753),(0.642,0.715),(0.683,0.72),(0.722,0.721),(0.763,0.728),(0.805,0.734),(0.844,0.66),(0.885,0.582),(0.926,0.366),(0.97,0.258),(1.043,0.245),(1.14,0.249),(1.226,0.258),(1.262,0.734),(1.303,0.74),(1.347,0.734),(1.39,0.746),(1.432,0.766),(1.48,0.728),(1.529,0.721),(1.578,0.708),(1.627,0.658),(1.675,0.512),(1.724,0.378),(1.773,0.277),(1.809,0.27),(1.846,0.15),(1.894,0.15),(2.016,0.15),(2.137,0.15),(2.223,0.156),(2.264,0.778),(2.308,0.74),(2.357,0.734),(2.429,0.70),(2.502,0.67),(2.558,0.64),
GAP,
(3.683,0.423),(3.725,0.416),(3.77,0.436),(3.809,0.436),(3.862,0.25),(3.888,0.219),(3.967,0.226),(4.098,0.219),(4.229,0.213),(4.269,0.645),(4.303,0.708),(4.347,0.626),(4.392,0.575),(4.434,0.531),(4.479,0.537),(4.524,0.493),(4.566,0.50),(4.61,0.429),(4.65,0.455),(4.691,0.391),(4.728,0.42),(4.768,0.385),(4.812,0.41),(4.846,0.328),(4.899,0.26),(4.938,0.258),(4.99,0.27),(5.069,0.289),(5.149,0.302),(5.227,0.321),(5.275,0.50),(5.314,0.81),(5.353,0.816),(5.398,0.785),(5.437,0.721),(5.476,0.645),(5.516,0.563),(5.563,0.563),(5.608,0.531),(5.647,0.486),(5.687,0.49),(5.726,0.531),(5.765,0.48),(5.81,0.525),(5.844,0.467),(5.884,0.429),(5.936,0.404),(6.015,0.417),(6.093,0.425),(6.172,0.436),(6.23,0.448),(6.27,0.80),(6.309,0.836),(6.351,0.81),(6.395,0.785),(6.435,0.76),(6.487,0.69),(6.527,0.62),(6.566,0.531),(6.61,0.56),(6.65,0.52),(6.689,0.499),(6.728,0.52),(6.767,0.524),(6.815,0.467),(6.854,0.416),(6.899,0.398),(6.977,0.394),(7.069,0.394),(7.187,0.394),(7.227,0.394),(7.274,0.778),(7.314,0.778),
GAP,
(7.437,0.645),(7.484,0.67),(7.524,0.62),(7.563,0.531),(7.608,0.556),(7.647,0.559),(7.686,0.499),(7.726,0.53),(7.773,0.505),(7.818,0.474),(7.857,0.416),(7.91,0.404),(7.988,0.398),(8.093,0.394),(8.224,0.391),(8.272,0.772),(8.316,0.76),(8.356,0.556),(8.395,0.54),(8.448,0.531),(8.487,0.436),(8.526,0.353),(8.566,0.353),(8.605,0.35),(8.645,0.346),(8.692,0.194),(8.731,0.52),(8.771,0.52),(8.815,0.467),(8.854,0.42),(8.894,0.398),(8.986,0.394),(9.091,0.392),(9.196,0.389),(9.235,0.39),(9.269,0.78),(9.314,0.836),(9.354,0.658),(9.401,0.575),(9.445,0.588),(9.485,0.57),(9.524,0.56),(9.569,0.455),(9.61,0.467),(9.648,0.455),(9.689,0.366),(9.734,0.366),(9.774,0.381),(9.813,0.321),(9.857,0.296),(9.905,0.283),(10.01,0.283),(10.141,0.283),(10.225,0.283),(10.265,0.42),(10.28,0.563)]

# ---------------- styling ----------------
FONT = "Liberation Sans"
NAN = float("nan")
FRAME_W = 1974
C_BLACK = "#000000"
C_ORANGE = "#f47a1c"
C_VIOLET = "#e27af0"
C_CYAN = "#17e3e3"
C_SKY = "#7ec8f0"
C_BLUE = "#0a0aff"
C_MEAN = "#2020f5"
C_ERR = "#c4c4f8"
C_ERR2 = "#a6a6ee"


def xy(pts):
    xs, ys = [], []
    for q in pts:
        if q is None:
            xs.append(NAN); ys.append(NAN)
        else:
            xs.append(q[0]); ys.append(q[1])
    return xs, ys


def chunks(pts):
    out, cur = [], []
    for q in pts:
        if q is None:
            if cur:
                out.append(cur)
            cur = []
        else:
            cur.append(q)
    if cur:
        out.append(cur)
    return out


def make_fig(y0, y1, frame_h, top, bottom, show_x):
    kw = dict(x_range=Range1d(-1, 11), y_range=Range1d(y0, y1),
              frame_width=FRAME_W, frame_height=frame_h,
              min_border_left=270, min_border_right=4,
              min_border_top=top, min_border_bottom=bottom,
              output_backend="svg", toolbar_location=None)
    if not show_x:
        kw["x_axis_location"] = None
    p = figure(**kw)
    p.grid.visible = False
    p.outline_line_color = "black"
    p.outline_line_width = 5
    p.outline_line_alpha = 1.0
    ax = p.yaxis[0]
    ax.axis_line_width = 5
    ax.major_tick_line_width = 5
    ax.minor_tick_line_width = 5
    ax.major_tick_out = 28
    ax.major_tick_in = 0
    ax.minor_tick_out = 14
    ax.minor_tick_in = 0
    ax.major_label_text_font = FONT
    ax.major_label_text_font_size = "55px"
    ax.major_label_text_color = "black"
    ax.major_label_standoff = 14
    ax.axis_label_text_font = FONT
    ax.axis_label_text_font_size = "57px"
    ax.axis_label_text_font_style = "normal"
    ax.axis_label_text_color = "black"
    ax.axis_label_text_line_height = 1.15
    if show_x:
        bx = p.xaxis[0]
        bx.ticker = FixedTicker(ticks=DAY_TICKS)
        bx.formatter = PrintfTickFormatter(format="%d")
        bx.major_label_overrides = {11: ""}
        bx.axis_line_width = 5
        bx.major_tick_line_width = 5
        bx.major_tick_out = 24
        bx.major_tick_in = 0
        bx.minor_tick_line_color = None
        bx.major_label_text_font = FONT
        bx.major_label_text_font_size = "55px"
        bx.major_label_text_color = "black"
        bx.major_label_standoff = 24
        bx.axis_label = "Heat exposure [days]"
        bx.axis_label_text_font = FONT
        bx.axis_label_text_font_size = "70px"
        bx.axis_label_text_font_style = "normal"
        bx.axis_label_text_color = "black"
        bx.axis_label_standoff = 24
    return p


def add_nights(p, y0, y1):
    p.quad(left=NIGHT_START, right=NIGHT_END, bottom=y0, top=y1,
           fill_color="#bdbdbd", fill_alpha=0.27, line_color="#8a8a8a",
           line_width=2, line_alpha=0.9)


def add_thin(p, pts, color):
    xs, ys = xy(pts)
    p.line(xs, ys, line_color=color, line_width=1.7)
    p.scatter(xs, ys, size=4.5, fill_color=color, line_color=color)


def add_err(p, pts):
    for seg in chunks(pts):
        xs = [q[0] for q in seg]
        lo = [q[1] - q[2] for q in seg]
        hi = [q[1] + q[2] for q in seg]
        p.varea(x=xs, y1=lo, y2=hi, fill_color=C_ERR, fill_alpha=0.8)
        p.segment(x0=xs, y0=lo, x1=xs, y1=hi, line_color=C_ERR2,
                  line_width=6, line_alpha=0.6)


def add_mean(p, pts):
    xs, ys = xy([None if q is None else (q[0], q[1]) for q in pts])
    p.line(xs, ys, line_color=C_MEAN, line_width=7)
    p.scatter(xs, ys, size=12, fill_color=C_MEAN, line_color=C_MEAN)


# ---------------- panel 1: temperature ----------------
p1 = make_fig(15, 45, 490, 2, 10, False)
p1.yaxis[0].ticker = FixedTicker(ticks=TEMP_TICKS, minor_ticks=TEMP_MINOR)
p1.yaxis[0].axis_label = "Temperature\n[°C]"
p1.yaxis[0].axis_label_standoff = 23
p1.line(TEMP_X, TEMP_Y, line_color="#ff0000", line_width=5)
add_nights(p1, 15, 45)

# ---------------- panel 2: CO2 ----------------
p2 = make_fig(-3.45, 5.45, 496, 11, 10, False)
p2.yaxis[0].ticker = FixedTicker(ticks=CO2_TICKS, minor_ticks=CO2_MINOR)
p2.yaxis[0].formatter = PrintfTickFormatter(format="%d")
p2.yaxis[0].axis_label = "Net CO\u2082 assimilation\n[\u00b5mol m\u207b\u00b2 s\u207b\u00b9]"
p2.yaxis[0].axis_label_text_font_size = "54px"
p2.yaxis[0].axis_label_standoff = 43
add_err(p2, CO2_MEAN)
p2.add_layout(Span(location=0, dimension="width", line_color="black",
                   line_width=4, line_dash="6 14"))
for pts, col in [(CO2_VIOLET, C_VIOLET), (CO2_ORANGE, C_ORANGE), (CO2_SKY, C_SKY),
                 (CO2_CYAN, C_CYAN), (CO2_BLACK, C_BLACK), (CO2_BLUE, C_BLUE)]:
    add_thin(p2, pts, col)
add_mean(p2, CO2_MEAN)
add_nights(p2, -3.45, 5.45)

# ---------------- panel 3: transpiration ----------------
p3 = make_fig(0, 1.9, 488, 12, 10, True)
p3.yaxis[0].ticker = FixedTicker(ticks=TR_TICKS, minor_ticks=TR_MINOR)
p3.yaxis[0].formatter = PrintfTickFormatter(format="%.1f")
p3.yaxis[0].axis_label = "Transpiration\n[mmol m\u207b\u00b2 s\u207b\u00b9]"
p3.yaxis[0].axis_label_standoff = 4
add_err(p3, TR_MEAN)
for pts, col in [(TR_VIOLET, C_VIOLET), (TR_ORANGE, C_ORANGE), (TR_SKY, C_SKY),
                 (TR_CYAN, C_CYAN), (TR_BLACK, C_BLACK), (TR_BLUE, C_BLUE)]:
    add_thin(p3, pts, col)
add_mean(p3, TR_MEAN)
add_nights(p3, 0, 1.9)

layout = column(p1, p2, p3)
open("out.html", "w").write(file_html(layout, INLINE))
